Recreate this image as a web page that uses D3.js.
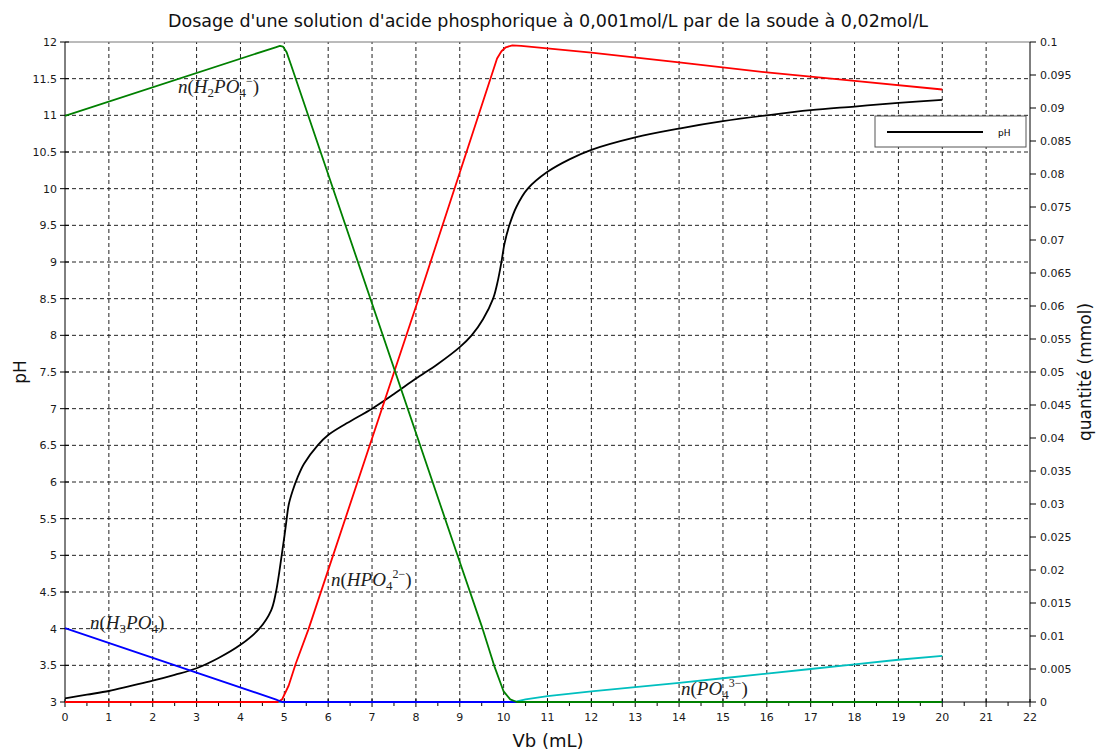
<!DOCTYPE html>
<html>
<head>
<meta charset="utf-8">
<script src="https://cdn.jsdelivr.net/npm/d3@7"></script>
<style>
  body { margin: 0; background: #fff; }
  text { font-family: "DejaVu Sans", sans-serif; }
  .tick-label { font-size: 11px; fill: #1a1a1a; }
  .note { font-family: "Liberation Serif", serif; font-size: 19px; fill: #222; }
</style>
</head>
<body>
<div id="chart"></div>
<script>
// ---- values ----
var titleText = "Dosage d'une solution d'acide phosphorique à 0,001mol/L par de la soude à 0,02mol/L";

var xTicks = d3.range(0, 23);
var phTicks = d3.range(3, 12.01, 0.5);
var qTicks = d3.range(0, 0.1001, 0.005);

// pH curve
var vbPH = [0, 0.5, 1, 1.5, 2, 2.5, 3, 3.5, 4, 4.43, 4.7, 4.81, 4.88, 4.94, 5.0, 5.05, 5.1, 5.19, 5.3, 5.45, 5.76, 6.0, 6.42, 7.0, 7.5, 8.0, 8.5, 9.0, 9.27, 9.53, 9.76, 9.87, 9.95, 10.02, 10.13, 10.29, 10.55, 11.0, 11.5, 12, 13, 14, 15, 16, 17, 18, 19, 20];
var pH = [3.05, 3.1, 3.15, 3.22, 3.29, 3.37, 3.46, 3.6, 3.78, 4.0, 4.25, 4.5, 4.75, 5.0, 5.25, 5.48, 5.69, 5.88, 6.06, 6.25, 6.5, 6.64, 6.8, 7.0, 7.2, 7.41, 7.61, 7.84, 8.0, 8.22, 8.5, 8.75, 9.0, 9.25, 9.5, 9.75, 10.0, 10.23, 10.4, 10.53, 10.7, 10.82, 10.92, 11.0, 11.07, 11.12, 11.17, 11.21];

// quantities (mmol)
var vbH3PO4 = [0, 4.8, 4.95, 20];
var nH3PO4 = [0.0112, 0.0004, 0, 0];

var vbH2PO4 = [0, 4.8, 4.9, 4.97, 5.05, 5.15, 9.0, 9.5, 9.8, 10.0, 10.15, 10.3, 20];
var nH2PO4 = [0.0888, 0.0992, 0.0994, 0.0993, 0.0985, 0.0966, 0.0212, 0.0115, 0.0052, 0.0016, 0.0004, 0, 0];

var vbHPO4 = [0, 4.85, 4.95, 5.1, 5.26, 5.55, 8.06, 9.85, 9.95, 10.05, 10.2, 10.4, 12, 14, 16, 18, 20];
var nHPO4 = [0, 0, 0.0004, 0.0025, 0.0058, 0.011, 0.0611, 0.0975, 0.0986, 0.0992, 0.0995, 0.0994, 0.0984, 0.0969, 0.0954, 0.0941, 0.0928];

var vbPO4 = [0, 10.15, 10.3, 10.5, 11, 12, 13, 14, 15, 16, 17, 18, 19, 20];
var nPO4 = [0, 0, 0.0001, 0.0004, 0.0009, 0.0016, 0.00225, 0.0029, 0.0036, 0.0043, 0.0050, 0.0057, 0.0064, 0.0070];

// ---- layout ----
var width = 1099, height = 753;
var margin = { top: 42, right: 69, bottom: 51, left: 65 };

var svg = d3
  .select("#chart")
  .append("svg")
  .attr("width", width)
  .attr("height", height);

var x = d3.scaleLinear().domain([0, 22]).range([margin.left, width - margin.right]);
var yL = d3.scaleLinear().domain([3, 12]).range([height - margin.bottom, margin.top]);
var yR = d3.scaleLinear().domain([0, 0.1]).range([height - margin.bottom, margin.top]);

var x0 = x.range()[0], x1 = x.range()[1];
var yBot = yL.range()[0], yTop = yL.range()[1];

// grid
var grid = svg.append("g").attr("stroke", "#222").attr("stroke-width", 1).attr("stroke-dasharray", "4,3");
grid
  .selectAll(".vgrid")
  .data(xTicks.filter((d) => d > 0 && d < 22))
  .join("line")
  .attr("x1", (d) => x(d))
  .attr("x2", (d) => x(d))
  .attr("y1", yBot)
  .attr("y2", yTop);
grid
  .selectAll(".hgrid")
  .data(phTicks.filter((d) => d > 3 && d < 12))
  .join("line")
  .attr("x1", x0)
  .attr("x2", x1)
  .attr("y1", (d) => yL(d))
  .attr("y2", (d) => yL(d));

// frame top
svg.append("line")
  .attr("x1", x0).attr("x2", x1)
  .attr("y1", yTop).attr("y2", yTop)
  .attr("stroke", "#777");

// x axis
var xAxis = svg.append("g").attr("transform", "translate(0," + yBot + ")");
xAxis.append("line").attr("x1", x0).attr("x2", x1).attr("stroke", "#000");
xAxis.selectAll(".minor")
  .data(xTicks.slice(0, -1).map((d) => d + 0.5))
  .join("line")
  .attr("x1", (d) => x(d)).attr("x2", (d) => x(d))
  .attr("y1", 0).attr("y2", 4)
  .attr("stroke", "#000");
xAxis.selectAll(".major")
  .data(xTicks)
  .join("line")
  .attr("x1", (d) => x(d)).attr("x2", (d) => x(d))
  .attr("y1", -3).attr("y2", 5)
  .attr("stroke", "#000");
xAxis.selectAll("text")
  .data(xTicks)
  .join("text")
  .attr("class", "tick-label")
  .attr("x", (d) => x(d))
  .attr("y", 19)
  .attr("text-anchor", "middle")
  .text((d) => d);

// left axis (pH)
var lAxis = svg.append("g").attr("transform", "translate(" + x0 + ",0)");
lAxis.append("line").attr("y1", yBot).attr("y2", yTop).attr("stroke", "#000");
lAxis.selectAll("line.t")
  .data(phTicks)
  .join("line")
  .attr("class", "t")
  .attr("x1", -5).attr("x2", 4)
  .attr("y1", (d) => yL(d)).attr("y2", (d) => yL(d))
  .attr("stroke", "#000");
lAxis.selectAll("text")
  .data(phTicks)
  .join("text")
  .attr("class", "tick-label")
  .attr("x", -8)
  .attr("y", (d) => yL(d))
  .attr("dy", "0.35em")
  .attr("text-anchor", "end")
  .text((d) => d3.format("~g")(d));

// right axis (quantité)
var rAxis = svg.append("g").attr("transform", "translate(" + x1 + ",0)");
rAxis.append("line").attr("y1", yBot).attr("y2", yTop).attr("stroke", "#000");
rAxis.selectAll("line.t")
  .data(qTicks)
  .join("line")
  .attr("class", "t")
  .attr("x1", 0).attr("x2", 6)
  .attr("y1", (d) => yR(d)).attr("y2", (d) => yR(d))
  .attr("stroke", "#000");
rAxis.selectAll("text")
  .data(qTicks)
  .join("text")
  .attr("class", "tick-label")
  .attr("x", 10)
  .attr("y", (d) => yR(d))
  .attr("dy", "0.35em")
  .text((d) => d3.format("~g")(+d.toFixed(3)));

// curves
function series(vb, vals, yScale) {
  return vb.map((v, i) => [x(v), yScale(vals[i])]);
}
var smooth = d3.line().curve(d3.curveCatmullRom.alpha(0.5));
var straight = d3.line();

var curves = [
  { pts: series(vbPH, pH, yL), color: "#000000", gen: smooth },
  { pts: series(vbPO4, nPO4, yR), color: "#00bfbf", gen: straight },
  { pts: series(vbHPO4, nHPO4, yR), color: "#ff0000", gen: straight },
  { pts: series(vbH3PO4, nH3PO4, yR), color: "#0000ff", gen: straight },
  { pts: series(vbH2PO4, nH2PO4, yR), color: "#008000", gen: straight },
];
svg.selectAll(".curve")
  .data(curves)
  .join("path")
  .attr("class", "curve")
  .attr("fill", "none")
  .attr("stroke", (d) => d.color)
  .attr("stroke-width", 1.8)
  .attr("stroke-linejoin", "round")
  .attr("d", (d) => d.gen(d.pts));

// annotations n(...) : parts = [text, kind]  (i = italic, sub, sup)
function note(px, py, parts) {
  var t = svg.append("text").attr("class", "note").attr("x", px).attr("y", py);
  var shift = 0;
  parts.forEach(function(p) {
    var s = t.append("tspan").text(p[0]);
    var want = 0;
    if (p[1] === "i") s.style("font-style", "italic");
    if (p[1] === "sub") { s.attr("font-size", 13); want = 4; }
    if (p[1] === "sup") { s.attr("font-size", 12); want = -8; }
    if (want !== shift) s.attr("dy", want - shift);
    shift = want;
  });
}
note(178, 93, [["n", "i"], ["("], ["H", "i"], ["2", "sub"], ["PO", "i"], ["4", "sub"], ["−", "sup"], [")"]]);
note(331, 586, [["n", "i"], ["("], ["HPO", "i"], ["4", "sub"], ["2−", "sup"], [")"]]);
note(90, 629, [["n", "i"], ["("], ["H", "i"], ["3", "sub"], ["PO", "i"], ["4", "sub"], [")"]]);
note(681, 695, [["n", "i"], ["("], ["PO", "i"], ["4", "sub"], ["3−", "sup"], [")"]]);

// legend
var lg = svg.append("g").attr("transform", "translate(875,116)");
lg.append("rect").attr("width", 151).attr("height", 31).attr("fill", "#fff").attr("stroke", "#555");
lg.append("line").attr("x1", 12).attr("x2", 108).attr("y1", 16).attr("y2", 16).attr("stroke", "#000").attr("stroke-width", 2);
lg.append("text").attr("x", 123).attr("y", 19.5).attr("font-size", 9).attr("fill", "#000").text("pH");

// titles
svg.append("text")
  .attr("x", (x0 + x1) / 2 + 0.5).attr("y", 27)
  .attr("text-anchor", "middle").attr("font-size", 17.5).attr("fill", "#111")
  .text(titleText);
svg.append("text")
  .attr("x", (x0 + x1) / 2 + 0.5).attr("y", 747)
  .attr("text-anchor", "middle").attr("font-size", 18).attr("fill", "#111")
  .text("Vb (mL)");
svg.append("text")
  .attr("transform", "translate(26," + (yBot + yTop) / 2 + ") rotate(-90)")
  .attr("text-anchor", "middle").attr("font-size", 17).attr("fill", "#111")
  .text("pH");
svg.append("text")
  .attr("transform", "translate(1091," + (yBot + yTop) / 2 + ") rotate(-90)")
  .attr("text-anchor", "middle").attr("font-size", 17).attr("fill", "#111")
  .text("quantité (mmol)");
</script>
</body>
</html>
